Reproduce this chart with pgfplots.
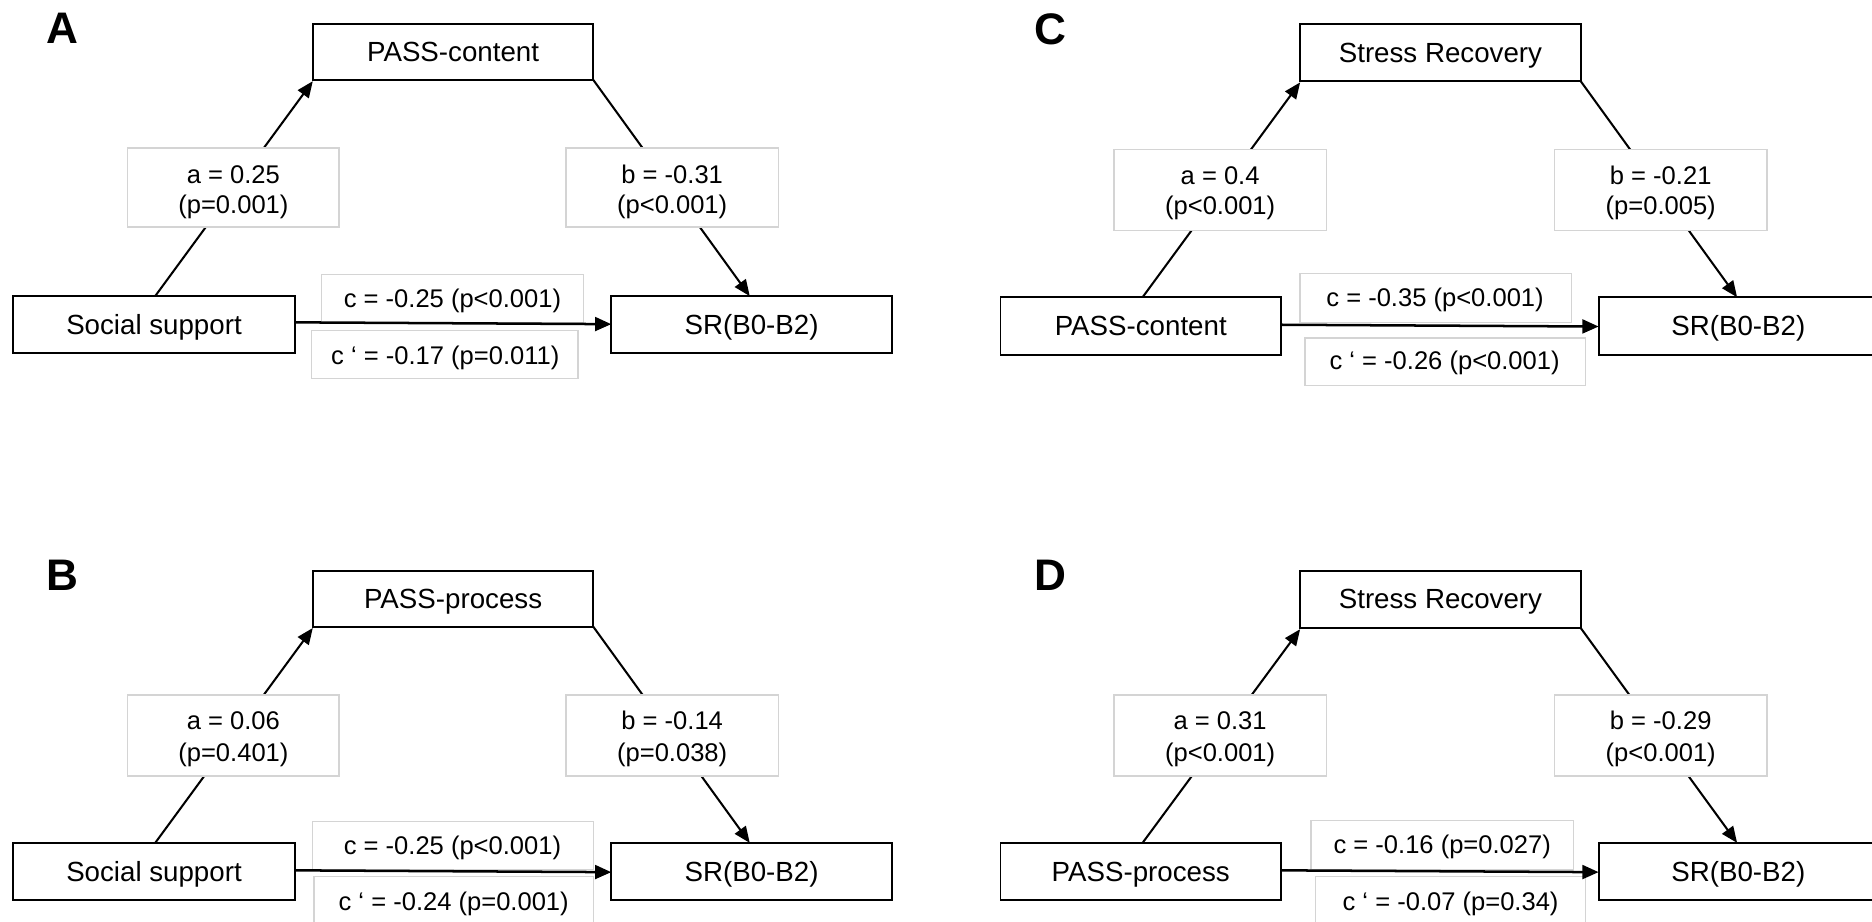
\documentclass[border=0pt]{standalone}
\usepackage{fontspec}
\setmainfont{Liberation Sans}
\usepackage{pgfplots}
\pgfplotsset{compat=1.18}
\usetikzlibrary{arrows.meta}
\begin{document}
\begin{tikzpicture}[
  box/.style={draw=black,line width=0.8pt,fill=white},
  lab/.style={draw=black!17,line width=0.55pt,fill=white},
  arr/.style={line width=0.85pt,-{Triangle[length=6.8pt,width=5.6pt]}},
  harr/.style={line width=1.05pt,-{Triangle[length=6.8pt,width=5.8pt]}},
  txt/.style={font=\fontsize{11.6}{13}\selectfont,inner sep=0pt,anchor=center,text height=8.3pt,text depth=0pt},
  ltxt/.style={font=\fontsize{10.7}{12}\selectfont,inner sep=0pt,anchor=center,text height=7.66pt,text depth=0pt},
  pan/.style={font=\fontsize{18.5}{20}\selectfont\bfseries,inner sep=0pt,anchor=center,text height=13.25pt,text depth=0pt}]
\begin{axis}[width=784pt,height=386pt,scale only axis,
  xmin=0,xmax=1568,ymin=0,ymax=772,y dir=reverse,
  axis lines=none,clip=true]
\coordinate (BL) at (axis cs:0,772);
\coordinate (TR) at (axis cs:1568,0);
%%%%% Panel A
\node[pan] at (axis cs:52,23) {A};
\draw[arr] (axis cs:130,248) -- (axis cs:262,68);
\draw[arr] (axis cs:497,67) -- (axis cs:628,248);
\draw[lab] (axis cs:107,124) rectangle (axis cs:284,190);
\node[ltxt] at (axis cs:195.5,146) {a = 0.25};
\node[ltxt] at (axis cs:195.5,171) {(p=0.001)};
\draw[lab] (axis cs:474,124) rectangle (axis cs:652,190);
\node[ltxt] at (axis cs:563,146) {b = -0.31};
\node[ltxt] at (axis cs:563,171) {(p<0.001)};
\draw[lab] (axis cs:269,230) rectangle (axis cs:489,270);
\node[ltxt] at (axis cs:379,250) {c = -0.25 (p<0.001)};
\draw[lab] (axis cs:261,277) rectangle (axis cs:484,317);
\node[ltxt] at (axis cs:373,298) {c ‘ = -0.17 (p=0.011)};
\draw[box] (axis cs:262,20) rectangle (axis cs:497,67);
\node[txt] at (axis cs:379.5,43.5) {PASS-content};
\draw[box] (axis cs:11,248) rectangle (axis cs:247,296);
\node[txt] at (axis cs:129,272) {Social support};
\draw[box] (axis cs:512,248) rectangle (axis cs:747,296);
\node[txt] at (axis cs:629.5,272) {SR(B0-B2)};
\draw[harr] (axis cs:247,270) -- (axis cs:512,271.5);
%%%%% Panel C
\node[pan] at (axis cs:880,24) {C};
\draw[arr] (axis cs:957,249) -- (axis cs:1089,69);
\draw[arr] (axis cs:1324,68) -- (axis cs:1455,249);
\draw[lab] (axis cs:933,125) rectangle (axis cs:1111,193);
\node[ltxt] at (axis cs:1022,147) {a = 0.4};
\node[ltxt] at (axis cs:1022,172) {(p<0.001)};
\draw[lab] (axis cs:1302,125) rectangle (axis cs:1480,193);
\node[ltxt] at (axis cs:1391,147) {b = -0.21};
\node[ltxt] at (axis cs:1391,172) {(p=0.005)};
\draw[lab] (axis cs:1089,229) rectangle (axis cs:1316,270);
\node[ltxt] at (axis cs:1202,249) {c = -0.35 (p<0.001)};
\draw[lab] (axis cs:1093,283) rectangle (axis cs:1328,323);
\node[ltxt] at (axis cs:1210,302) {c ‘ = -0.26 (p<0.001)};
\draw[box] (axis cs:1089,20) rectangle (axis cs:1324,68);
\node[txt] at (axis cs:1206.5,44) {Stress Recovery};
\draw[box] (axis cs:838,249) rectangle (axis cs:1073,297);
\node[txt] at (axis cs:955.5,273) {PASS-content};
\draw[box] (axis cs:1339,249) rectangle (axis cs:1574,297);
\node[txt] at (axis cs:1456,273) {SR(B0-B2)};
\draw[harr] (axis cs:1073,272) -- (axis cs:1339,273.5);
%%%%% Panel B
\node[pan] at (axis cs:52,481) {B};
\draw[arr] (axis cs:130,706) -- (axis cs:262,526);
\draw[arr] (axis cs:497,525) -- (axis cs:628,706);
\draw[lab] (axis cs:107,582) rectangle (axis cs:284,650);
\node[ltxt] at (axis cs:195.5,603) {a = 0.06};
\node[ltxt] at (axis cs:195.5,630) {(p=0.401)};
\draw[lab] (axis cs:474,582) rectangle (axis cs:652,650);
\node[ltxt] at (axis cs:563,603) {b = -0.14};
\node[ltxt] at (axis cs:563,630) {(p=0.038)};
\draw[lab] (axis cs:262,688) rectangle (axis cs:497,728);
\node[ltxt] at (axis cs:379,708) {c = -0.25 (p<0.001)};
\draw[lab] (axis cs:263,734) rectangle (axis cs:497,778);
\node[ltxt] at (axis cs:380,755) {c ‘ = -0.24 (p=0.001)};
\draw[box] (axis cs:262,478) rectangle (axis cs:497,525);
\node[txt] at (axis cs:379.5,501) {PASS-process};
\draw[box] (axis cs:11,706) rectangle (axis cs:247,754);
\node[txt] at (axis cs:129,730) {Social support};
\draw[box] (axis cs:512,706) rectangle (axis cs:747,754);
\node[txt] at (axis cs:629.5,730) {SR(B0-B2)};
\draw[harr] (axis cs:247,729) -- (axis cs:512,730.5);
%%%%% Panel D
\node[pan] at (axis cs:880,481) {D};
\draw[arr] (axis cs:957,706) -- (axis cs:1089,527);
\draw[arr] (axis cs:1324,526) -- (axis cs:1455,706);
\draw[lab] (axis cs:933,582) rectangle (axis cs:1111,650);
\node[ltxt] at (axis cs:1022,603) {a = 0.31};
\node[ltxt] at (axis cs:1022,630) {(p<0.001)};
\draw[lab] (axis cs:1302,582) rectangle (axis cs:1480,650);
\node[ltxt] at (axis cs:1391,603) {b = -0.29};
\node[ltxt] at (axis cs:1391,630) {(p<0.001)};
\draw[lab] (axis cs:1098,687) rectangle (axis cs:1318,728);
\node[ltxt] at (axis cs:1208,707) {c = -0.16 (p=0.027)};
\draw[lab] (axis cs:1102,734) rectangle (axis cs:1328,778);
\node[ltxt] at (axis cs:1215,755) {c ‘ = -0.07 (p=0.34)};
\draw[box] (axis cs:1089,478) rectangle (axis cs:1324,526);
\node[txt] at (axis cs:1206.5,501) {Stress Recovery};
\draw[box] (axis cs:838,706) rectangle (axis cs:1073,754);
\node[txt] at (axis cs:955.5,730) {PASS-process};
\draw[box] (axis cs:1339,706) rectangle (axis cs:1574,754);
\node[txt] at (axis cs:1456,730) {SR(B0-B2)};
\draw[harr] (axis cs:1073,729) -- (axis cs:1339,730.5);
\end{axis}
\pgfresetboundingbox
\path[use as bounding box] (BL) rectangle (TR);
\end{tikzpicture}
\end{document}
